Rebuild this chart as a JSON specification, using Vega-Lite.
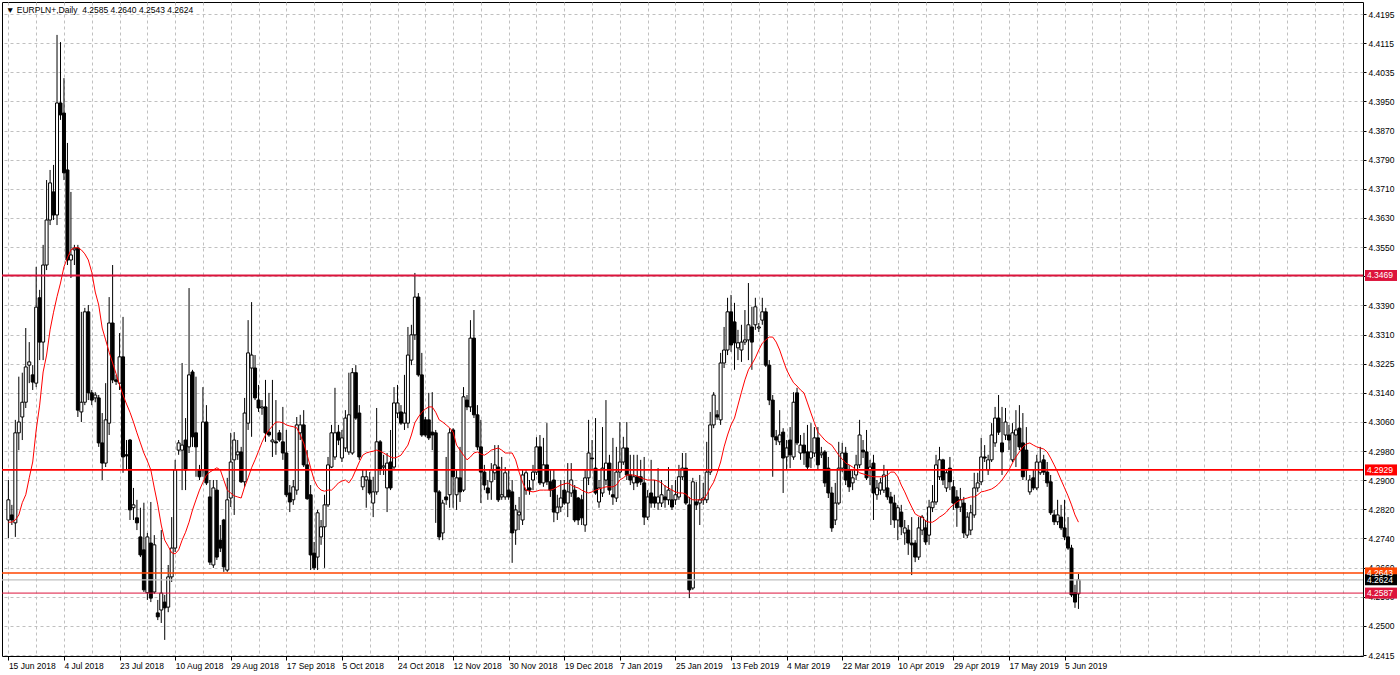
{
"$schema":"https://vega.github.io/schema/vega-lite/v6.json",
"width":1361,"height":654,
"autosize":{"type":"none"},
"padding":{"left":2,"top":2,"right":37,"bottom":19},
"background":"#ffffff",
"title":{"text":"▼ EURPLN+,Daily\u00a0\u00a04.2585 4.2640 4.2543 4.2624","anchor":"start","frame":"group","offset":-12,"dx":4,"fontSize":8.5,"fontWeight":"normal","font":"Liberation Sans","color":"#000"},
"config":{"font":"Liberation Sans","view":{"stroke":"#000","strokeWidth":1},"axis":{"labelFont":"Liberation Sans","labelFontSize":8.5,"labelColor":"#000","gridColor":"#c0c0c0","gridDash":[3,3],"gridWidth":1,"tickColor":"#000","domain":false,"title":null,"labelOverlap":false}},
"datasets":{
"candles":[
{"open":4.2790,"high":4.2901,"low":4.2740,"close":4.2846,"ma":4.2784},
{"open":4.2804,"high":4.2832,"low":4.2776,"close":4.2790,"ma":4.2784},
{"open":4.2782,"high":4.3068,"low":4.2743,"close":4.3032,"ma":4.2790},
{"open":4.3032,"high":4.3188,"low":4.2984,"close":4.3062,"ma":4.2804},
{"open":4.3076,"high":4.3199,"low":4.3012,"close":4.3117,"ma":4.2838},
{"open":4.3117,"high":4.3323,"low":4.3101,"close":4.3215,"ma":4.2860},
{"open":4.3220,"high":4.3284,"low":4.3170,"close":4.3229,"ma":4.2907},
{"open":4.3193,"high":4.3220,"low":4.3151,"close":4.3173,"ma":4.2951},
{"open":4.3170,"high":4.3493,"low":4.3159,"close":4.3381,"ma":4.3040},
{"open":4.3407,"high":4.3429,"low":4.3234,"close":4.3284,"ma":4.3109},
{"open":4.3284,"high":4.3554,"low":4.3234,"close":4.3498,"ma":4.3201},
{"open":4.3498,"high":4.3734,"low":4.3484,"close":4.3623,"ma":4.3248},
{"open":4.3623,"high":4.3762,"low":4.3609,"close":4.3726,"ma":4.3318},
{"open":4.3701,"high":4.3776,"low":4.3623,"close":4.3637,"ma":4.3367},
{"open":4.3637,"high":4.4137,"low":4.3609,"close":4.3948,"ma":4.3410},
{"open":4.3948,"high":4.4117,"low":4.3901,"close":4.3915,"ma":4.3448},
{"open":4.3920,"high":4.4017,"low":4.3734,"close":4.3754,"ma":4.3493},
{"open":4.3762,"high":4.3837,"low":4.3498,"close":4.3512,"ma":4.3518},
{"open":4.3512,"high":4.3701,"low":4.3462,"close":4.3526,"ma":4.3540},
{"open":4.3540,"high":4.3554,"low":4.3498,"close":4.3545,"ma":4.3546},
{"open":4.3545,"high":4.3554,"low":4.3076,"close":4.3095,"ma":4.3546},
{"open":4.3090,"high":4.3368,"low":4.3062,"close":4.3117,"ma":4.3540},
{"open":4.3117,"high":4.3379,"low":4.3109,"close":4.3368,"ma":4.3529},
{"open":4.3368,"high":4.3387,"low":4.3123,"close":4.3143,"ma":4.3512},
{"open":4.3143,"high":4.3151,"low":4.3109,"close":4.3123,"ma":4.3478},
{"open":4.3129,"high":4.3145,"low":4.3117,"close":4.3137,"ma":4.3423},
{"open":4.3129,"high":4.3137,"low":4.2993,"close":4.3004,"ma":4.3387},
{"open":4.3004,"high":4.3087,"low":4.2901,"close":4.2948,"ma":4.3323},
{"open":4.2948,"high":4.3170,"low":4.2937,"close":4.3068,"ma":4.3290},
{"open":4.3059,"high":4.3409,"low":4.3026,"close":4.3337,"ma":4.3256},
{"open":4.3337,"high":4.3498,"low":4.3170,"close":4.3179,"ma":4.3226},
{"open":4.3179,"high":4.3193,"low":4.3165,"close":4.3175,"ma":4.3196},
{"open":4.3170,"high":4.3309,"low":4.3151,"close":4.3243,"ma":4.3165},
{"open":4.3243,"high":4.3354,"low":4.2921,"close":4.2965,"ma":4.3137},
{"open":4.2971,"high":4.3012,"low":4.2929,"close":4.2968,"ma":4.3112},
{"open":4.3012,"high":4.3015,"low":4.2790,"close":4.2818,"ma":4.3089},
{"open":4.2824,"high":4.2879,"low":4.2790,"close":4.2832,"ma":4.3062},
{"open":4.2796,"high":4.2846,"low":4.2762,"close":4.2782,"ma":4.3032},
{"open":4.2743,"high":4.2824,"low":4.2687,"close":4.2693,"ma":4.3004},
{"open":4.2707,"high":4.2838,"low":4.2590,"close":4.2596,"ma":4.2976},
{"open":4.2588,"high":4.2754,"low":4.2568,"close":4.2743,"ma":4.2954},
{"open":4.2726,"high":4.2840,"low":4.2562,"close":4.2573,"ma":4.2929},
{"open":4.2590,"high":4.2748,"low":4.2585,"close":4.2721,"ma":4.2879},
{"open":4.2532,"high":4.2568,"low":4.2512,"close":4.2521,"ma":4.2832},
{"open":4.2540,"high":4.2762,"low":4.2504,"close":4.2587,"ma":4.2776},
{"open":4.2562,"high":4.2582,"low":4.2457,"close":4.2546,"ma":4.2734},
{"open":4.2548,"high":4.2665,"low":4.2534,"close":4.2632,"ma":4.2717},
{"open":4.2632,"high":4.2798,"low":4.2618,"close":4.2712,"ma":4.2699},
{"open":4.2712,"high":4.2957,"low":4.2701,"close":4.2929,"ma":4.2696},
{"open":4.2984,"high":4.3012,"low":4.2971,"close":4.3004,"ma":4.2707},
{"open":4.2984,"high":4.3226,"low":4.2873,"close":4.2998,"ma":4.2734},
{"open":4.3012,"high":4.3073,"low":4.2873,"close":4.2929,"ma":4.2756},
{"open":4.2993,"high":4.3434,"low":4.2976,"close":4.3193,"ma":4.2784},
{"open":4.3201,"high":4.3207,"low":4.2993,"close":4.3021,"ma":4.2818},
{"open":4.3032,"high":4.3188,"low":4.2910,"close":4.2993,"ma":4.2846},
{"open":4.2929,"high":4.2943,"low":4.2901,"close":4.2910,"ma":4.2873},
{"open":4.2929,"high":4.3159,"low":4.2910,"close":4.3062,"ma":4.2895},
{"open":4.3062,"high":4.3109,"low":4.2887,"close":4.2893,"ma":4.2915},
{"open":4.2854,"high":4.2901,"low":4.2665,"close":4.2673,"ma":4.2923},
{"open":4.2665,"high":4.2901,"low":4.2657,"close":4.2879,"ma":4.2929},
{"open":4.2873,"high":4.2901,"low":4.2679,"close":4.2687,"ma":4.2935},
{"open":4.2734,"high":4.2776,"low":4.2701,"close":4.2712,"ma":4.2929},
{"open":4.2790,"high":4.2793,"low":4.2646,"close":4.2660,"ma":4.2901},
{"open":4.2651,"high":4.2907,"low":4.2646,"close":4.2846,"ma":4.2873},
{"open":4.2851,"high":4.3032,"low":4.2826,"close":4.2951,"ma":4.2865},
{"open":4.2957,"high":4.3034,"low":4.2804,"close":4.3012,"ma":4.2857},
{"open":4.2971,"high":4.3012,"low":4.2957,"close":4.2979,"ma":4.2854},
{"open":4.2979,"high":4.2993,"low":4.2893,"close":4.2896,"ma":4.2851},
{"open":4.2896,"high":4.3129,"low":4.2882,"close":4.3087,"ma":4.2882},
{"open":4.3059,"high":4.3345,"low":4.3040,"close":4.3254,"ma":4.2907},
{"open":4.3212,"high":4.3395,"low":4.3021,"close":4.3248,"ma":4.2935},
{"open":4.3212,"high":4.3248,"low":4.3123,"close":4.3129,"ma":4.2957},
{"open":4.3123,"high":4.3165,"low":4.3090,"close":4.3101,"ma":4.2981},
{"open":4.3101,"high":4.3123,"low":4.3082,"close":4.3104,"ma":4.3006},
{"open":4.3104,"high":4.3179,"low":4.3007,"close":4.3032,"ma":4.3026},
{"open":4.3034,"high":4.3143,"low":4.3021,"close":4.3026,"ma":4.3040},
{"open":4.3007,"high":4.3179,"low":4.2965,"close":4.3012,"ma":4.3051},
{"open":4.3007,"high":4.3123,"low":4.2971,"close":4.3004,"ma":4.3062},
{"open":4.3032,"high":4.3040,"low":4.3007,"close":4.3012,"ma":4.3062},
{"open":4.3007,"high":4.3104,"low":4.2957,"close":4.2976,"ma":4.3060},
{"open":4.2976,"high":4.3040,"low":4.2854,"close":4.2860,"ma":4.3054},
{"open":4.2865,"high":4.2887,"low":4.2812,"close":4.2840,"ma":4.3051},
{"open":4.2846,"high":4.2901,"low":4.2832,"close":4.2882,"ma":4.3049},
{"open":4.2873,"high":4.3076,"low":4.2860,"close":4.3054,"ma":4.3046},
{"open":4.3032,"high":4.3082,"low":4.3012,"close":4.3054,"ma":4.3026},
{"open":4.3054,"high":4.3095,"low":4.2937,"close":4.2943,"ma":4.3004},
{"open":4.2943,"high":4.2984,"low":4.2846,"close":4.2849,"ma":4.2970},
{"open":4.2860,"high":4.2887,"low":4.2651,"close":4.2693,"ma":4.2935},
{"open":4.2698,"high":4.2729,"low":4.2651,"close":4.2657,"ma":4.2901},
{"open":4.2687,"high":4.2818,"low":4.2651,"close":4.2810,"ma":4.2882},
{"open":4.2743,"high":4.2790,"low":4.2721,"close":4.2771,"ma":4.2873},
{"open":4.2771,"high":4.2860,"low":4.2657,"close":4.2832,"ma":4.2870},
{"open":4.2832,"high":4.2965,"low":4.2826,"close":4.2943,"ma":4.2873},
{"open":4.2937,"high":4.3054,"low":4.2934,"close":4.3032,"ma":4.2873},
{"open":4.2965,"high":4.3157,"low":4.2957,"close":4.3032,"ma":4.2882},
{"open":4.3034,"high":4.3054,"low":4.2998,"close":4.3012,"ma":4.2893},
{"open":4.2962,"high":4.3040,"low":4.2951,"close":4.3018,"ma":4.2898},
{"open":4.2990,"high":4.3095,"low":4.2979,"close":4.3073,"ma":4.2901},
{"open":4.2979,"high":4.3199,"low":4.2971,"close":4.3082,"ma":4.2893},
{"open":4.2976,"high":4.3212,"low":4.2971,"close":4.3199,"ma":4.2907},
{"open":4.3199,"high":4.3220,"low":4.3068,"close":4.3073,"ma":4.2929},
{"open":4.3087,"high":4.3109,"low":4.2957,"close":4.2965,"ma":4.2951},
{"open":4.2882,"high":4.2929,"low":4.2873,"close":4.2910,"ma":4.2970},
{"open":4.2901,"high":4.2929,"low":4.2824,"close":4.2910,"ma":4.2976},
{"open":4.2901,"high":4.2923,"low":4.2860,"close":4.2865,"ma":4.2979},
{"open":4.2837,"high":4.2910,"low":4.2798,"close":4.2868,"ma":4.2981},
{"open":4.2868,"high":4.3101,"low":4.2860,"close":4.3007,"ma":4.2984},
{"open":4.3007,"high":4.3012,"low":4.2915,"close":4.2929,"ma":4.2981},
{"open":4.2937,"high":4.2971,"low":4.2915,"close":4.2940,"ma":4.2976},
{"open":4.2879,"high":4.2976,"low":4.2812,"close":4.2948,"ma":4.2970},
{"open":4.2951,"high":4.3040,"low":4.2873,"close":4.2879,"ma":4.2965},
{"open":4.2937,"high":4.3159,"low":4.2929,"close":4.3115,"ma":4.2962},
{"open":4.3087,"high":4.3165,"low":4.3073,"close":4.3115,"ma":4.2965},
{"open":4.3090,"high":4.3109,"low":4.3054,"close":4.3059,"ma":4.2970},
{"open":4.3059,"high":4.3193,"low":4.3040,"close":4.3087,"ma":4.2984},
{"open":4.3059,"high":4.3326,"low":4.3045,"close":4.3248,"ma":4.2998},
{"open":4.3234,"high":4.3332,"low":4.3220,"close":4.3304,"ma":4.3026},
{"open":4.3304,"high":4.3476,"low":4.3290,"close":4.3409,"ma":4.3060},
{"open":4.3409,"high":4.3420,"low":4.3188,"close":4.3193,"ma":4.3076},
{"open":4.3193,"high":4.3254,"low":4.3021,"close":4.3026,"ma":4.3089},
{"open":4.3068,"high":4.3076,"low":4.3021,"close":4.3026,"ma":4.3098},
{"open":4.3068,"high":4.3143,"low":4.3012,"close":4.3018,"ma":4.3104},
{"open":4.3034,"high":4.3145,"low":4.2984,"close":4.3026,"ma":4.3104},
{"open":4.3032,"high":4.3040,"low":4.2782,"close":4.2868,"ma":4.3089},
{"open":4.2868,"high":4.2873,"low":4.2734,"close":4.2743,"ma":4.3068},
{"open":4.2754,"high":4.2846,"low":4.2734,"close":4.2837,"ma":4.3062},
{"open":4.2854,"high":4.2965,"low":4.2832,"close":4.2846,"ma":4.3054},
{"open":4.2860,"high":4.3045,"low":4.2824,"close":4.3032,"ma":4.3046},
{"open":4.3040,"high":4.3045,"low":4.2824,"close":4.2910,"ma":4.3034},
{"open":4.2860,"high":4.2929,"low":4.2818,"close":4.2907,"ma":4.2998},
{"open":4.2907,"high":4.2993,"low":4.2840,"close":4.2868,"ma":4.2984},
{"open":4.2873,"high":4.3159,"low":4.2868,"close":4.3132,"ma":4.2970},
{"open":4.3123,"high":4.3137,"low":4.3095,"close":4.3104,"ma":4.2957},
{"open":4.3104,"high":4.3345,"low":4.3090,"close":4.3295,"ma":4.2965},
{"open":4.3295,"high":4.3373,"low":4.3073,"close":4.3082,"ma":4.2976},
{"open":4.3082,"high":4.3109,"low":4.2984,"close":4.2993,"ma":4.2979},
{"open":4.2993,"high":4.3068,"low":4.2837,"close":4.2923,"ma":4.2973},
{"open":4.2923,"high":4.2943,"low":4.2873,"close":4.2887,"ma":4.2970},
{"open":4.2879,"high":4.2901,"low":4.2846,"close":4.2865,"ma":4.2976},
{"open":4.2896,"high":4.2948,"low":4.2846,"close":4.2929,"ma":4.2984},
{"open":4.2921,"high":4.2998,"low":4.2901,"close":4.2943,"ma":4.2987},
{"open":4.2937,"high":4.2998,"low":4.2840,"close":4.2846,"ma":4.2990},
{"open":4.2854,"high":4.2965,"low":4.2846,"close":4.2860,"ma":4.2984},
{"open":4.2854,"high":4.2937,"low":4.2846,"close":4.2921,"ma":4.2976},
{"open":4.2873,"high":4.2929,"low":4.2846,"close":4.2854,"ma":4.2976},
{"open":4.2868,"high":4.2901,"low":4.2671,"close":4.2754,"ma":4.2976},
{"open":4.2762,"high":4.2832,"low":4.2721,"close":4.2818,"ma":4.2957},
{"open":4.2804,"high":4.2854,"low":4.2762,"close":4.2812,"ma":4.2923},
{"open":4.2790,"high":4.2929,"low":4.2776,"close":4.2915,"ma":4.2895},
{"open":4.2873,"high":4.2929,"low":4.2860,"close":4.2921,"ma":4.2873},
{"open":4.2879,"high":4.2901,"low":4.2860,"close":4.2873,"ma":4.2870},
{"open":4.2901,"high":4.2943,"low":4.2873,"close":4.2923,"ma":4.2868},
{"open":4.2923,"high":4.3020,"low":4.2915,"close":4.2993,"ma":4.2870},
{"open":4.2993,"high":4.3026,"low":4.2887,"close":4.2893,"ma":4.2873},
{"open":4.2893,"high":4.3018,"low":4.2882,"close":4.2943,"ma":4.2873},
{"open":4.2943,"high":4.3059,"low":4.2887,"close":4.2896,"ma":4.2873},
{"open":4.2896,"high":4.2929,"low":4.2854,"close":4.2873,"ma":4.2873},
{"open":4.2901,"high":4.2929,"low":4.2784,"close":4.2812,"ma":4.2876},
{"open":4.2810,"high":4.2860,"low":4.2790,"close":4.2826,"ma":4.2882},
{"open":4.2826,"high":4.2901,"low":4.2812,"close":4.2851,"ma":4.2887},
{"open":4.2873,"high":4.2901,"low":4.2832,"close":4.2837,"ma":4.2890},
{"open":4.2837,"high":4.2948,"low":4.2798,"close":4.2868,"ma":4.2893},
{"open":4.2865,"high":4.2948,"low":4.2854,"close":4.2901,"ma":4.2887},
{"open":4.2873,"high":4.2887,"low":4.2784,"close":4.2790,"ma":4.2882},
{"open":4.2851,"high":4.2854,"low":4.2776,"close":4.2790,"ma":4.2879},
{"open":4.2846,"high":4.2860,"low":4.2776,"close":4.2796,"ma":4.2873},
{"open":4.2776,"high":4.2929,"low":4.2757,"close":4.2907,"ma":4.2868},
{"open":4.2907,"high":4.3068,"low":4.2887,"close":4.2976,"ma":4.2865},
{"open":4.2962,"high":4.3012,"low":4.2929,"close":4.2960,"ma":4.2868},
{"open":4.2934,"high":4.3073,"low":4.2860,"close":4.2865,"ma":4.2873},
{"open":4.2840,"high":4.2901,"low":4.2824,"close":4.2879,"ma":4.2876},
{"open":4.2865,"high":4.3048,"low":4.2854,"close":4.2934,"ma":4.2879},
{"open":4.2901,"high":4.3123,"low":4.2887,"close":4.2948,"ma":4.2882},
{"open":4.2948,"high":4.2971,"low":4.2860,"close":4.2873,"ma":4.2882},
{"open":4.2860,"high":4.3018,"low":4.2832,"close":4.2854,"ma":4.2882},
{"open":4.2851,"high":4.2993,"low":4.2840,"close":4.2923,"ma":4.2887},
{"open":4.2923,"high":4.3062,"low":4.2907,"close":4.2951,"ma":4.2901},
{"open":4.2951,"high":4.3021,"low":4.2943,"close":4.2990,"ma":4.2907},
{"open":4.2990,"high":4.3062,"low":4.2901,"close":4.2915,"ma":4.2915},
{"open":4.2915,"high":4.2971,"low":4.2887,"close":4.2901,"ma":4.2915},
{"open":4.2893,"high":4.2971,"low":4.2873,"close":4.2910,"ma":4.2915},
{"open":4.2910,"high":4.2971,"low":4.2882,"close":4.2893,"ma":4.2912},
{"open":4.2910,"high":4.2957,"low":4.2887,"close":4.2896,"ma":4.2907},
{"open":4.2893,"high":4.2965,"low":4.2776,"close":4.2798,"ma":4.2904},
{"open":4.2798,"high":4.2873,"low":4.2790,"close":4.2854,"ma":4.2901},
{"open":4.2865,"high":4.2957,"low":4.2824,"close":4.2837,"ma":4.2901},
{"open":4.2854,"high":4.2901,"low":4.2824,"close":4.2837,"ma":4.2901},
{"open":4.2837,"high":4.2934,"low":4.2818,"close":4.2854,"ma":4.2898},
{"open":4.2837,"high":4.2901,"low":4.2826,"close":4.2860,"ma":4.2893},
{"open":4.2854,"high":4.2887,"low":4.2824,"close":4.2846,"ma":4.2884},
{"open":4.2846,"high":4.2937,"low":4.2832,"close":4.2873,"ma":4.2879},
{"open":4.2846,"high":4.2887,"low":4.2818,"close":4.2826,"ma":4.2873},
{"open":4.2846,"high":4.2901,"low":4.2832,"close":4.2860,"ma":4.2868},
{"open":4.2854,"high":4.2943,"low":4.2846,"close":4.2910,"ma":4.2865},
{"open":4.2910,"high":4.2976,"low":4.2901,"close":4.2934,"ma":4.2865},
{"open":4.2934,"high":4.2976,"low":4.2832,"close":4.2837,"ma":4.2862},
{"open":4.2832,"high":4.2854,"low":4.2573,"close":4.2596,"ma":4.2851},
{"open":4.2601,"high":4.2907,"low":4.2596,"close":4.2896,"ma":4.2846},
{"open":4.2840,"high":4.2896,"low":4.2818,"close":4.2832,"ma":4.2846},
{"open":4.2837,"high":4.2915,"low":4.2776,"close":4.2846,"ma":4.2846},
{"open":4.2846,"high":4.2893,"low":4.2832,"close":4.2851,"ma":4.2846},
{"open":4.2846,"high":4.3007,"low":4.2837,"close":4.2923,"ma":4.2860},
{"open":4.2923,"high":4.3090,"low":4.2915,"close":4.3054,"ma":4.2879},
{"open":4.3054,"high":4.3145,"low":4.3045,"close":4.3137,"ma":4.2895},
{"open":4.3082,"high":4.3095,"low":4.3068,"close":4.3076,"ma":4.2921},
{"open":4.3068,"high":4.3254,"low":4.3054,"close":4.3226,"ma":4.2951},
{"open":4.3226,"high":4.3326,"low":4.3212,"close":4.3262,"ma":4.2993},
{"open":4.3262,"high":4.3407,"low":4.3248,"close":4.3368,"ma":4.3026},
{"open":4.3368,"high":4.3415,"low":4.3257,"close":4.3276,"ma":4.3054},
{"open":4.3340,"high":4.3393,"low":4.3207,"close":4.3282,"ma":4.3073},
{"open":4.3268,"high":4.3318,"low":4.3234,"close":4.3282,"ma":4.3109},
{"open":4.3262,"high":4.3332,"low":4.3229,"close":4.3284,"ma":4.3145},
{"open":4.3284,"high":4.3373,"low":4.3276,"close":4.3290,"ma":4.3179},
{"open":4.3290,"high":4.3448,"low":4.3234,"close":4.3332,"ma":4.3207},
{"open":4.3326,"high":4.3382,"low":4.3207,"close":4.3284,"ma":4.3223},
{"open":4.3332,"high":4.3407,"low":4.3318,"close":4.3382,"ma":4.3240},
{"open":4.3323,"high":4.3337,"low":4.3312,"close":4.3326,"ma":4.3262},
{"open":4.3345,"high":4.3407,"low":4.3332,"close":4.3368,"ma":4.3281},
{"open":4.3368,"high":4.3379,"low":4.3215,"close":4.3220,"ma":4.3290},
{"open":4.3220,"high":4.3234,"low":4.3109,"close":4.3123,"ma":4.3298},
{"open":4.3123,"high":4.3137,"low":4.2910,"close":4.3021,"ma":4.3298},
{"open":4.3021,"high":4.3040,"low":4.2998,"close":4.3012,"ma":4.3284},
{"open":4.3007,"high":4.3095,"low":4.2998,"close":4.3026,"ma":4.3262},
{"open":4.3034,"high":4.3045,"low":4.2865,"close":4.2962,"ma":4.3234},
{"open":4.2965,"high":4.3012,"low":4.2929,"close":4.2990,"ma":4.3207},
{"open":4.3012,"high":4.3048,"low":4.2934,"close":4.2971,"ma":4.3188},
{"open":4.2965,"high":4.3145,"low":4.2957,"close":4.3117,"ma":4.3171},
{"open":4.3143,"high":4.3157,"low":4.2998,"close":4.3004,"ma":4.3162},
{"open":4.2976,"high":4.3026,"low":4.2957,"close":4.2998,"ma":4.3151},
{"open":4.2998,"high":4.3032,"low":4.2943,"close":4.2976,"ma":4.3143},
{"open":4.2979,"high":4.3054,"low":4.2929,"close":4.2937,"ma":4.3115},
{"open":4.2962,"high":4.3059,"low":4.2934,"close":4.2979,"ma":4.3087},
{"open":4.2976,"high":4.3048,"low":4.2965,"close":4.3018,"ma":4.3060},
{"open":4.3018,"high":4.3048,"low":4.2929,"close":4.2943,"ma":4.3034},
{"open":4.2971,"high":4.2993,"low":4.2962,"close":4.2976,"ma":4.3023},
{"open":4.2979,"high":4.2984,"low":4.2882,"close":4.2893,"ma":4.3012},
{"open":4.2934,"high":4.2965,"low":4.2851,"close":4.2865,"ma":4.3004},
{"open":4.2865,"high":4.2882,"low":4.2757,"close":4.2768,"ma":4.2998},
{"open":4.2790,"high":4.2893,"low":4.2776,"close":4.2837,"ma":4.2984},
{"open":4.2837,"high":4.3007,"low":4.2832,"close":4.2934,"ma":4.2970},
{"open":4.2934,"high":4.3004,"low":4.2923,"close":4.2976,"ma":4.2959},
{"open":4.2976,"high":4.2993,"low":4.2887,"close":4.2901,"ma":4.2948},
{"open":4.2929,"high":4.2943,"low":4.2868,"close":4.2882,"ma":4.2943},
{"open":4.2893,"high":4.2929,"low":4.2873,"close":4.2907,"ma":4.2937},
{"open":4.2915,"high":4.2971,"low":4.2901,"close":4.2943,"ma":4.2929},
{"open":4.2943,"high":4.3068,"low":4.2934,"close":4.3026,"ma":4.2921},
{"open":4.2984,"high":4.3012,"low":4.2962,"close":4.2979,"ma":4.2918},
{"open":4.2979,"high":4.3040,"low":4.2901,"close":4.2907,"ma":4.2915},
{"open":4.2929,"high":4.2957,"low":4.2887,"close":4.2937,"ma":4.2912},
{"open":4.2948,"high":4.2971,"low":4.2790,"close":4.2865,"ma":4.2910},
{"open":4.2860,"high":4.2901,"low":4.2846,"close":4.2879,"ma":4.2910},
{"open":4.2873,"high":4.2907,"low":4.2860,"close":4.2893,"ma":4.2910},
{"open":4.2873,"high":4.2943,"low":4.2865,"close":4.2915,"ma":4.2910},
{"open":4.2879,"high":4.2929,"low":4.2846,"close":4.2854,"ma":4.2915},
{"open":4.2854,"high":4.2868,"low":4.2776,"close":4.2837,"ma":4.2923},
{"open":4.2837,"high":4.2860,"low":4.2768,"close":4.2790,"ma":4.2923},
{"open":4.2790,"high":4.2832,"low":4.2734,"close":4.2824,"ma":4.2910},
{"open":4.2812,"high":4.2832,"low":4.2748,"close":4.2771,"ma":4.2887},
{"open":4.2754,"high":4.2790,"low":4.2721,"close":4.2768,"ma":4.2868},
{"open":4.2762,"high":4.2776,"low":4.2693,"close":4.2726,"ma":4.2846},
{"open":4.2726,"high":4.2798,"low":4.2637,"close":4.2721,"ma":4.2826},
{"open":4.2726,"high":4.2734,"low":4.2673,"close":4.2687,"ma":4.2807},
{"open":4.2687,"high":4.2798,"low":4.2679,"close":4.2768,"ma":4.2801},
{"open":4.2762,"high":4.2804,"low":4.2748,"close":4.2798,"ma":4.2798},
{"open":4.2768,"high":4.2790,"low":4.2721,"close":4.2729,"ma":4.2787},
{"open":4.2748,"high":4.2846,"low":4.2721,"close":4.2826,"ma":4.2784},
{"open":4.2824,"high":4.2887,"low":4.2812,"close":4.2840,"ma":4.2784},
{"open":4.2840,"high":4.2971,"low":4.2832,"close":4.2943,"ma":4.2790},
{"open":4.2910,"high":4.2993,"low":4.2901,"close":4.2957,"ma":4.2798},
{"open":4.2957,"high":4.2960,"low":4.2887,"close":4.2901,"ma":4.2804},
{"open":4.2879,"high":4.2929,"low":4.2868,"close":4.2921,"ma":4.2812},
{"open":4.2934,"high":4.2965,"low":4.2873,"close":4.2896,"ma":4.2824},
{"open":4.2882,"high":4.2901,"low":4.2818,"close":4.2837,"ma":4.2832},
{"open":4.2854,"high":4.2873,"low":4.2771,"close":4.2824,"ma":4.2840},
{"open":4.2826,"high":4.2879,"low":4.2812,"close":4.2846,"ma":4.2846},
{"open":4.2837,"high":4.2854,"low":4.2740,"close":4.2754,"ma":4.2848},
{"open":4.2748,"high":4.2812,"low":4.2740,"close":4.2798,"ma":4.2851},
{"open":4.2762,"high":4.2832,"low":4.2748,"close":4.2810,"ma":4.2854},
{"open":4.2804,"high":4.2921,"low":4.2796,"close":4.2879,"ma":4.2854},
{"open":4.2879,"high":4.2921,"low":4.2868,"close":4.2893,"ma":4.2860},
{"open":4.2896,"high":4.3018,"low":4.2887,"close":4.2965,"ma":4.2868},
{"open":4.2965,"high":4.2998,"low":4.2951,"close":4.2962,"ma":4.2870},
{"open":4.2929,"high":4.2971,"low":4.2915,"close":4.2957,"ma":4.2873},
{"open":4.2957,"high":4.3059,"low":4.2951,"close":4.3026,"ma":4.2876},
{"open":4.3004,"high":4.3104,"low":4.2993,"close":4.3073,"ma":4.2882},
{"open":4.3073,"high":4.3137,"low":4.3026,"close":4.3034,"ma":4.2890},
{"open":4.3004,"high":4.3104,"low":4.2915,"close":4.2979,"ma":4.2901},
{"open":4.3026,"high":4.3101,"low":4.3012,"close":4.3062,"ma":4.2915},
{"open":4.3026,"high":4.3054,"low":4.2984,"close":4.3012,"ma":4.2929},
{"open":4.2957,"high":4.3059,"low":4.2951,"close":4.3032,"ma":4.2948},
{"open":4.3026,"high":4.3095,"low":4.2937,"close":4.3040,"ma":4.2965},
{"open":4.3045,"high":4.3109,"low":4.2984,"close":4.2993,"ma":4.2979},
{"open":4.3004,"high":4.3087,"low":4.2901,"close":4.2910,"ma":4.2993},
{"open":4.2984,"high":4.3048,"low":4.2901,"close":4.2929,"ma":4.3001},
{"open":4.2868,"high":4.2915,"low":4.2860,"close":4.2901,"ma":4.3004},
{"open":4.2907,"high":4.2929,"low":4.2873,"close":4.2879,"ma":4.2998},
{"open":4.2879,"high":4.2971,"low":4.2873,"close":4.2951,"ma":4.2993},
{"open":4.2921,"high":4.2993,"low":4.2915,"close":4.2951,"ma":4.2990},
{"open":4.2957,"high":4.2971,"low":4.2915,"close":4.2923,"ma":4.2987},
{"open":4.2923,"high":4.2951,"low":4.2882,"close":4.2893,"ma":4.2979},
{"open":4.2896,"high":4.2915,"low":4.2804,"close":4.2810,"ma":4.2962},
{"open":4.2804,"high":4.2818,"low":4.2776,"close":4.2785,"ma":4.2943},
{"open":4.2785,"high":4.2846,"low":4.2776,"close":4.2804,"ma":4.2923},
{"open":4.2798,"high":4.2832,"low":4.2762,"close":4.2768,"ma":4.2901},
{"open":4.2768,"high":4.2846,"low":4.2734,"close":4.2743,"ma":4.2879},
{"open":4.2743,"high":4.2798,"low":4.2707,"close":4.2712,"ma":4.2857},
{"open":4.2712,"high":4.2721,"low":4.2576,"close":4.2582,"ma":4.2832},
{"open":4.2588,"high":4.2610,"low":4.2546,"close":4.2562,"ma":4.2804},
{"open":4.2585,"high":4.2640,"low":4.2543,"close":4.2624,"ma":4.2784}
],
"levels":[
{"price":4.3469,"kind":"upper"},
{"price":4.2929,"kind":"middle"},
{"price":4.2643,"kind":"alert"},
{"price":4.2624,"kind":"bid"},
{"price":4.2587,"kind":"lower"}
]
},
"layer":[
{"data":{"name":"candles"},
 "transform":[{"window":[{"op":"row_number","as":"bar"}]}],
 "mark":{"type":"rule","color":"#000000","strokeWidth":1},
 "encoding":{
  "x":{"field":"bar","type":"quantitative","scale":{"domain":[0.6,389.46],"nice":false,"zero":false},
   "axis":{"orient":"bottom","tickCount":200,"values":[1,9,17,25,33,41,49,57,65,73,81,89,97,105,113,121,129,137,145,153,161,169,177,185,193,201,209,217,225,233,241,249,257,265,273,281,289,297,305,313,321,329,337,345,353,361,369,377,385],
    "labelExpr":"(datum.value-1)%16==0 && datum.value<310 ? ['15 Jun 2018','4 Jul 2018','23 Jul 2018','10 Aug 2018','29 Aug 2018','17 Sep 2018','5 Oct 2018','24 Oct 2018','12 Nov 2018','30 Nov 2018','19 Dec 2018','7 Jan 2019','25 Jan 2019','13 Feb 2019','4 Mar 2019','22 Mar 2019','10 Apr 2019','29 Apr 2019','17 May 2019','5 Jun 2019'][(datum.value-1)/16] : ''",
    "labelAlign":"left","labelPadding":1,"labelOverlap":false,"labelFlush":false,"tickSize":4,
    "tickOpacity":{"condition":{"test":"(datum.value-1)%16==0 && datum.value<310","value":1},"value":0},
    "grid":true}},
  "y":{"field":"low","type":"quantitative","scale":{"domain":[4.24123,4.42284],"nice":false,"zero":false},
   "axis":{"orient":"right","tickCount":200,"values":[4.2415,4.24959,4.25768,4.26577,4.27386,4.28195,4.29005,4.29814,4.30623,4.31432,4.32241,4.3305,4.33859,4.34668,4.35477,4.36286,4.37095,4.37905,4.38714,4.39523,4.40332,4.41141,4.4195],
    "labelExpr":"['4.2415','4.2500','4.2580','4.2660','4.2740','4.2820','4.2900','4.2980','4.3060','4.3140','4.3225','4.3310','4.3390','4.3470','4.3550','4.3630','4.3710','4.3790','4.3870','4.3950','4.4035','4.4115','4.4195'][round((datum.value-4.2415)/0.0080909)]",
    "tickSize":3,"labelPadding":2,"labelOverlap":false,"labelFlush":false,"grid":true}},
  "y2":{"field":"high"}}},
{"data":{"name":"candles"},
 "transform":[{"window":[{"op":"row_number","as":"bar"}]}],
 "mark":{"type":"bar","width":3,"stroke":"#000000","strokeWidth":1},
 "encoding":{
  "x":{"field":"bar","type":"quantitative"},
  "y":{"field":"open","type":"quantitative"},
  "y2":{"field":"close"},
  "fill":{"condition":{"test":"datum.close >= datum.open","value":"#ffffff"},"value":"#000000"}}},
{"data":{"name":"candles"},
 "transform":[{"window":[{"op":"row_number","as":"bar"}]}],
 "mark":{"type":"line","color":"#ff0000","strokeWidth":1},
 "encoding":{
  "x":{"field":"bar","type":"quantitative"},
  "y":{"field":"ma","type":"quantitative"}}},
{"data":{"name":"levels"},
 "mark":{"type":"rule"},
 "encoding":{
  "y":{"field":"price","type":"quantitative"},
  "stroke":{"field":"kind","type":"nominal","scale":{"domain":["upper","middle","alert","bid","lower"],"range":["#dc143c","#ff0000","#ff4500","#c0c0c0","#dc143c"]},"legend":null},
  "strokeWidth":{"field":"kind","type":"ordinal","scale":{"domain":["upper","middle","alert","bid","lower"],"range":[2,1,1.5,1,2]},"legend":null}}},
{"data":{"name":"levels"},
 "mark":{"type":"point","shape":"M-1,-0.34375H1V0.34375H-1Z","size":1024,"filled":true,"opacity":1,"strokeWidth":0,"x":{"expr":"width + 18"}},
 "encoding":{
  "y":{"field":"price","type":"quantitative"},
  "fill":{"field":"kind","type":"nominal","scale":{"domain":["upper","middle","alert","bid","lower"],"range":["#dc143c","#ff0000","#ff4500","#000000","#dc143c"]},"legend":null}}},
{"data":{"name":"levels"},
 "mark":{"type":"text","align":"left","baseline":"middle","fontSize":8.5,"color":"#ffffff","x":{"expr":"width + 4"}},
 "encoding":{
  "y":{"field":"price","type":"quantitative"},
  "text":{"field":"price","type":"quantitative","format":".4f"}}}
]
}
